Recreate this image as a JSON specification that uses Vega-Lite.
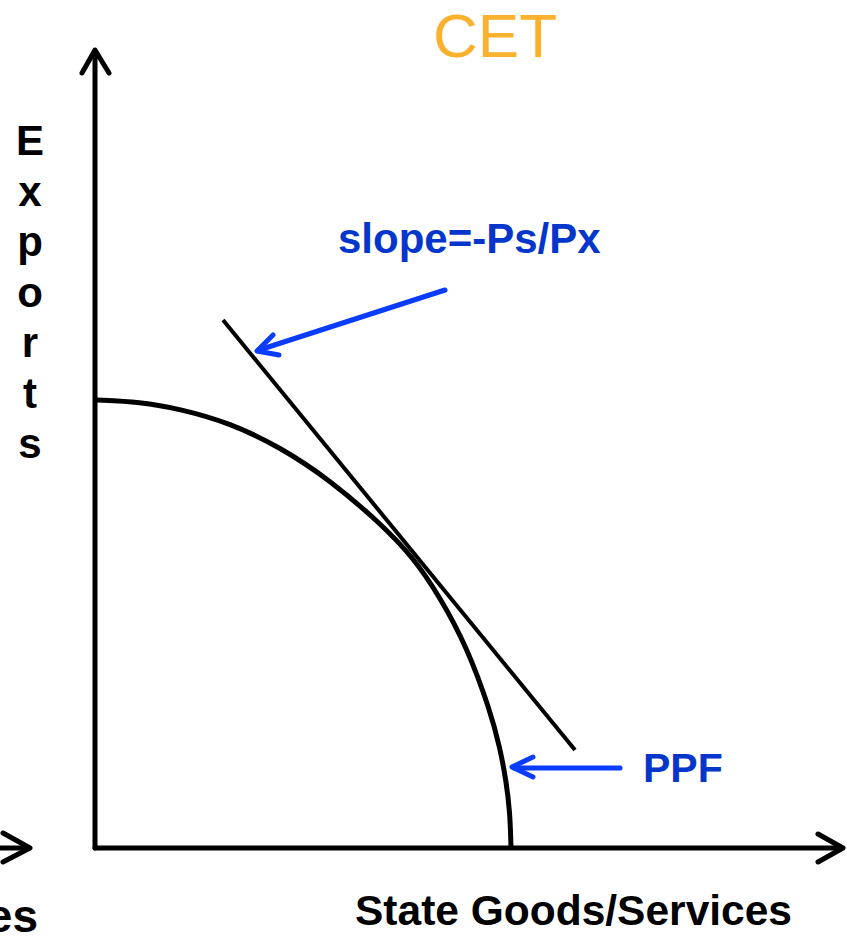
{
  "$schema": "https://vega.github.io/schema/vega-lite/v6.json",
  "width": 847,
  "height": 940,
  "padding": 0,
  "autosize": {"type": "none"},
  "background": "white",
  "config": {"view": {"stroke": null}},
  "datasets": {
    "frame": [
      {"part": "y-axis", "i": 0, "x": 0, "y": 0},
      {"part": "y-axis", "i": 1, "x": 0, "y": 796},
      {"part": "y-head", "i": 0, "x": -13, "y": 775},
      {"part": "y-head", "i": 1, "x": 0, "y": 798},
      {"part": "y-head", "i": 2, "x": 14, "y": 775},
      {"part": "x-axis", "i": 0, "x": 0, "y": 0},
      {"part": "x-axis", "i": 1, "x": 746, "y": 0},
      {"part": "x-head", "i": 0, "x": 723, "y": 14},
      {"part": "x-head", "i": 1, "x": 748, "y": 0},
      {"part": "x-head", "i": 2, "x": 723, "y": -14},
      {"part": "left-axis", "i": 0, "x": -100, "y": 0},
      {"part": "left-axis", "i": 1, "x": -66, "y": 0},
      {"part": "left-head", "i": 0, "x": -92, "y": 15},
      {"part": "left-head", "i": 1, "x": -65, "y": 0},
      {"part": "left-head", "i": 2, "x": -92, "y": -14}
    ],
    "ppf": [
      {"x": 1, "y": 448},
      {"x": 45, "y": 446},
      {"x": 85, "y": 439},
      {"x": 135, "y": 425},
      {"x": 185, "y": 401},
      {"x": 235, "y": 368},
      {"x": 285, "y": 325},
      {"x": 318, "y": 291},
      {"x": 345, "y": 251},
      {"x": 372, "y": 201},
      {"x": 395, "y": 138},
      {"x": 405, "y": 100},
      {"x": 411, "y": 68},
      {"x": 415, "y": 36},
      {"x": 416, "y": 0}
    ],
    "tangent": [
      {"x": 128, "y": 528},
      {"x": 480, "y": 98}
    ],
    "pointers": [
      {"part": "slope-shaft", "i": 0, "x": 350, "y": 558},
      {"part": "slope-shaft", "i": 1, "x": 164, "y": 498},
      {"part": "slope-head", "i": 0, "x": 178, "y": 513},
      {"part": "slope-head", "i": 1, "x": 162, "y": 497},
      {"part": "slope-head", "i": 2, "x": 184, "y": 493},
      {"part": "ppf-shaft", "i": 0, "x": 525, "y": 80},
      {"part": "ppf-shaft", "i": 1, "x": 419, "y": 80},
      {"part": "ppf-head", "i": 0, "x": 438, "y": 91},
      {"part": "ppf-head", "i": 1, "x": 417, "y": 81},
      {"part": "ppf-head", "i": 2, "x": 438, "y": 71}
    ],
    "labels": [
      {"label": "CET", "x": 400, "y": 791},
      {"label": "slope=-Ps/Px", "x": 243, "y": 595},
      {"label": "PPF", "x": 548, "y": 66},
      {"label": "State Goods/Services", "x": 260, "y": -77},
      {"label": "es", "x": -57, "y": -84},
      {"label": "E\nx\np\no\nr\nt\ns", "x": -65, "y": 693}
    ]
  },
  "layer": [
    {
      "data": {"name": "frame"},
      "mark": {"type": "line", "color": "black", "strokeWidth": 5, "strokeCap": "round", "strokeJoin": "round", "clip": true},
      "encoding": {
        "x": {"field": "x", "type": "quantitative", "scale": {"domain": [-95, 752], "nice": false, "zero": false}, "axis": null},
        "y": {"field": "y", "type": "quantitative", "scale": {"domain": [-92, 848], "nice": false, "zero": false}, "axis": null},
        "detail": {"field": "part"},
        "order": {"field": "i"}
      }
    },
    {
      "data": {"name": "ppf"},
      "mark": {"type": "line", "color": "black", "strokeWidth": 5, "interpolate": "basis"},
      "encoding": {
        "x": {"field": "x", "type": "quantitative"},
        "y": {"field": "y", "type": "quantitative"}
      }
    },
    {
      "data": {"name": "tangent"},
      "mark": {"type": "line", "color": "black", "strokeWidth": 4},
      "encoding": {
        "x": {"field": "x", "type": "quantitative"},
        "y": {"field": "y", "type": "quantitative"}
      }
    },
    {
      "data": {"name": "pointers"},
      "mark": {"type": "line", "color": "#0a3cff", "strokeWidth": 5, "strokeCap": "round", "strokeJoin": "round"},
      "encoding": {
        "x": {"field": "x", "type": "quantitative"},
        "y": {"field": "y", "type": "quantitative"},
        "detail": {"field": "part"},
        "order": {"field": "i"}
      }
    },
    {
      "data": {"name": "labels"},
      "transform": [{"filter": "datum.label == 'CET'"}],
      "mark": {"type": "text", "font": "Liberation Sans", "fontSize": 62, "color": "#f9b12e", "align": "center", "baseline": "alphabetic"},
      "encoding": {
        "x": {"field": "x", "type": "quantitative"},
        "y": {"field": "y", "type": "quantitative"},
        "text": {"field": "label"}
      }
    },
    {
      "data": {"name": "labels"},
      "transform": [{"filter": "datum.label == 'slope=-Ps/Px'"}],
      "mark": {"type": "text", "font": "Liberation Sans", "fontSize": 42, "fontWeight": "bold", "color": "#0536cc", "align": "left", "baseline": "alphabetic"},
      "encoding": {
        "x": {"field": "x", "type": "quantitative"},
        "y": {"field": "y", "type": "quantitative"},
        "text": {"field": "label"}
      }
    },
    {
      "data": {"name": "labels"},
      "transform": [{"filter": "datum.label == 'PPF'"}],
      "mark": {"type": "text", "font": "Liberation Sans", "fontSize": 41, "fontWeight": "bold", "color": "#0536cc", "align": "left", "baseline": "alphabetic"},
      "encoding": {
        "x": {"field": "x", "type": "quantitative"},
        "y": {"field": "y", "type": "quantitative"},
        "text": {"field": "label"}
      }
    },
    {
      "data": {"name": "labels"},
      "transform": [{"filter": "datum.label == 'State Goods/Services'"}],
      "mark": {"type": "text", "font": "Liberation Sans", "fontSize": 42.5, "fontWeight": "bold", "color": "black", "align": "left", "baseline": "alphabetic"},
      "encoding": {
        "x": {"field": "x", "type": "quantitative"},
        "y": {"field": "y", "type": "quantitative"},
        "text": {"field": "label"}
      }
    },
    {
      "data": {"name": "labels"},
      "transform": [{"filter": "datum.label == 'es'"}],
      "mark": {"type": "text", "font": "Liberation Sans", "fontSize": 46, "fontWeight": "bold", "color": "black", "align": "right", "baseline": "alphabetic"},
      "encoding": {
        "x": {"field": "x", "type": "quantitative"},
        "y": {"field": "y", "type": "quantitative"},
        "text": {"field": "label"}
      }
    },
    {
      "data": {"name": "labels"},
      "transform": [{"filter": "indexof(datum.label, '\\n') >= 0"}],
      "mark": {"type": "text", "font": "Liberation Sans", "fontSize": 42, "fontWeight": "bold", "color": "black", "align": "center", "baseline": "alphabetic", "lineBreak": "\n", "lineHeight": 50.5},
      "encoding": {
        "x": {"field": "x", "type": "quantitative"},
        "y": {"field": "y", "type": "quantitative"},
        "text": {"field": "label"}
      }
    }
  ]
}
